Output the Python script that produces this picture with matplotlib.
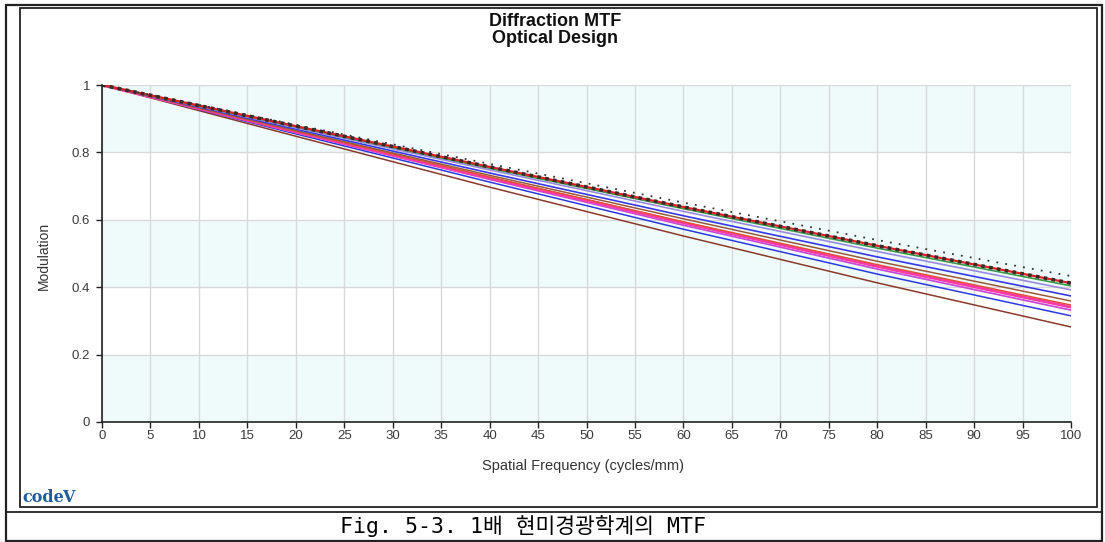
import matplotlib.pyplot as plt
from matplotlib.lines import Line2D
from matplotlib.patches import Rectangle

# spatial frequency samples (cycles/mm)
freq = [0, 20, 40, 60, 80, 100]

# modulation, one list per curve (top to bottom at 100)
mtf_dot_black = [1.0, 0.882, 0.766, 0.651, 0.540, 0.433]
mtf_red_sq = [1.0, 0.878, 0.757, 0.638, 0.523, 0.412]
mtf_green = [1.0, 0.876, 0.753, 0.633, 0.516, 0.404]
mtf_lilac = [1.0, 0.873, 0.748, 0.625, 0.506, 0.392]
mtf_blue1 = [1.0, 0.869, 0.739, 0.612, 0.490, 0.374]
mtf_brown1 = [1.0, 0.865, 0.732, 0.603, 0.477, 0.359]
mtf_orange = [1.0, 0.863, 0.727, 0.594, 0.467, 0.347]
mtf_pink = [1.0, 0.861, 0.724, 0.591, 0.462, 0.341]
mtf_magenta = [1.0, 0.859, 0.720, 0.584, 0.454, 0.332]
mtf_blue2 = [1.0, 0.855, 0.712, 0.572, 0.439, 0.315]
mtf_brown2 = [1.0, 0.848, 0.697, 0.552, 0.413, 0.282]

xticks = list(range(0, 101, 5))
yticks = [0, 0.2, 0.4, 0.6, 0.8, 1.0]
ytick_labels = ['0', '0.2', '0.4', '0.6', '0.8', '1']

caption = 'Fig. 5-3. 1배 현미경광학계의 MTF'

plt.rcParams['font.family'] = ['Liberation Sans', 'DejaVu Sans']

W, H = 1105, 542
fig = plt.figure(figsize=(W / 100, H / 100), dpi=100)
ax = fig.add_axes([102 / W, 1 - 422 / H, 969 / W, 337 / H])

# alternating background bands
for lo in [0.0, 0.4, 0.8]:
    ax.axhspan(lo, lo + 0.2, color='#effbfb', zorder=0, lw=0)

ax.set_xlim(0, 100)
ax.set_ylim(0, 1)
ax.set_xticks(xticks)
ax.set_yticks(yticks)
ax.set_yticklabels(ytick_labels)
ax.grid(True, color='#d9d9d9', lw=1, zorder=1)
ax.set_axisbelow(True)
for s in ['top', 'right']:
    ax.spines[s].set_visible(False)
for s in ['left', 'bottom']:
    ax.spines[s].set_color('#222222')
    ax.spines[s].set_linewidth(1.2)
ax.tick_params(direction='out', length=4, width=1, color='#222222',
               labelsize=9.5, labelcolor='#3a3a3a')
ax.tick_params(axis='y', pad=4.5)
ax.tick_params(axis='x', pad=2)

# curves
ax.plot(freq, mtf_brown2, color='#8b3a2a', lw=1.1)
ax.plot(freq, mtf_blue2, color='#2a3ae0', lw=1.1)
ax.plot(freq, mtf_magenta, color='#c84ad8', lw=1.3)
ax.plot(freq, mtf_pink, color='#ff3aa8', lw=2.2)
ax.plot(freq, mtf_orange, color='#e0503a', lw=1.1)
ax.plot(freq, mtf_brown1, color='#9a5a3a', lw=1.1)
ax.plot(freq, mtf_blue1, color='#3838e8', lw=1.2)
ax.plot(freq, mtf_lilac, color='#9a8ae0', lw=1.2)
ax.plot(freq, mtf_green, color='#3a9a4a', lw=1.2)
ax.plot(freq, mtf_red_sq, color='#e02020', lw=1.6)
ax.plot(freq, mtf_red_sq, color='#3a2a2a', lw=2.6, linestyle=(0, (1, 1.2)))
ax.plot(freq, mtf_dot_black, color='#333333', lw=1.3, linestyle=(0, (1, 4)))

fig.text(583 / W, 1 - 466 / H, 'Spatial Frequency (cycles/mm)', ha='center', va='center',
         fontsize=10.5, color='#333333')
fig.text(44 / W, 1 - 256 / H, 'Modulation', ha='center', va='center', rotation=90,
         fontsize=10, color='#333333')

fig.text(555 / W, 1 - 26 / H, 'Diffraction MTF', ha='center', va='baseline',
         fontsize=13, fontweight='bold', color='#111111')
fig.text(555 / W, 1 - 43 / H, 'Optical Design', ha='center', va='baseline',
         fontsize=13, fontweight='bold', color='#111111')

# codeV logo
fig.text(22 / W, 1 - 498 / H, 'code', ha='left', va='center', fontsize=11.5,
         fontweight='bold', color='#1f5c9e', family='DejaVu Serif')
fig.text(62 / W, 1 - 498 / H, 'V', ha='left', va='center', fontsize=11.5,
         fontweight='bold', color='#1f5c9e', family='DejaVu Serif')

# caption
fig.text(340 / W, 1 - 526 / H, caption, ha='left', va='center',
         fontsize=15.5, family=['DejaVu Sans Mono', 'Noto Sans CJK KR'])

# frames
fig.add_artist(Rectangle((19.5 / W, 1 - 507 / H), (1097 - 19.5) / W, (507 - 8) / H,
                         transform=fig.transFigure, fill=False, ec='#222222', lw=1.3))
fig.add_artist(Rectangle((5.5 / W, 1 - 541 / H), (1102 - 5.5) / W, (541 - 5) / H,
                         transform=fig.transFigure, fill=False, ec='#222222', lw=1.6))
fig.add_artist(Line2D([5.5 / W, 1102 / W], [1 - 511.5 / H, 1 - 511.5 / H],
                      transform=fig.transFigure, color='#222222', lw=1.3))

fig.savefig('out.png', dpi=100)
